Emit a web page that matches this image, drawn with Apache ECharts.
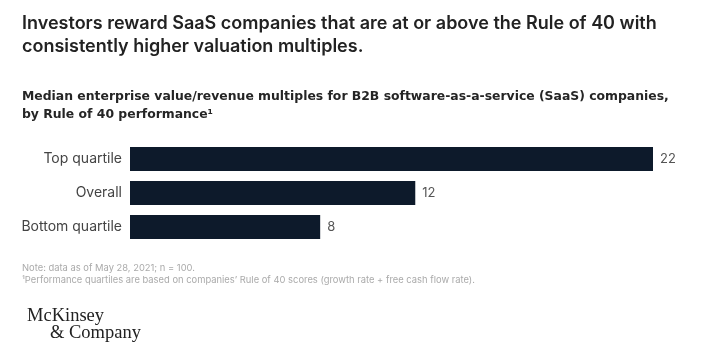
<!DOCTYPE html>
<html>
<head>
<meta charset="utf-8">
<script src="https://cdn.jsdelivr.net/npm/echarts@6/dist/echarts.min.js"></script>
<style>html,body{margin:0;padding:0;background:#fff}#c{width:720px;height:360px}</style>
</head>
<body>
<div id="c"></div>
<script>
var categories = ['Top quartile', 'Overall', 'Bottom quartile'];
var values = [22, 12, 8];
var titleLines = ['Investors reward SaaS companies that are at or above the Rule of 40 with', 'consistently higher valuation multiples.'];
var subtitleLines = ['Median enterprise value/revenue multiples for B2B software-as-a-service (SaaS) companies,', 'by Rule of 40 performance\u00B9'];
var noteLines = ['Note: data as of May 28, 2021; n = 100.', '\u00B9Performance quartiles are based on companies\u2019 Rule of 40 scores (growth rate + free cash flow rate).'];

var chart = echarts.init(document.getElementById('c'), null, {renderer: 'canvas'});
var font = 'Inter, "Noto Sans", sans-serif';
chart.setOption({
  animation: false,
  backgroundColor: '#fff',
  grid: {left: 130, right: 67, top: 142, bottom: 116, containLabel: false},
  xAxis: {type: 'value', min: 0, max: 22, show: false},
  yAxis: {
    type: 'category', data: categories, inverse: true,
    axisLine: {show: false}, axisTick: {show: false},
    axisLabel: {color: '#444', fontSize: 14, fontFamily: font, margin: 8}
  },
  series: [{
    type: 'bar', data: values, barWidth: 24,
    itemStyle: {color: '#0d1a2b'},
    label: {show: true, position: 'right', distance: 7, color: '#555', fontSize: 13, fontFamily: font}
  }],
  graphic: [
    {type: 'text', left: 22, top: 12, style: {text: titleLines.join('\n'), font: '600 18px ' + font, fill: '#222', lineHeight: 23}},
    {type: 'text', left: 22, top: 88, style: {text: subtitleLines.join('\n'), font: 'bold 12.4px "DejaVu Sans", sans-serif', fill: '#252525', lineHeight: 18}},
    {type: 'text', left: 22, top: 262, style: {text: noteLines.join('\n'), font: '9.4px ' + font, fill: '#aaa', lineHeight: 12}},
    {type: 'text', left: 27, top: 307, style: {text: 'McKinsey', font: '18.5px "Liberation Serif", serif', fill: '#222'}},
    {type: 'text', left: 50, top: 324, style: {text: '& Company', font: '18.5px "Liberation Serif", serif', fill: '#222'}}
  ]
});
</script>
</body>
</html>
